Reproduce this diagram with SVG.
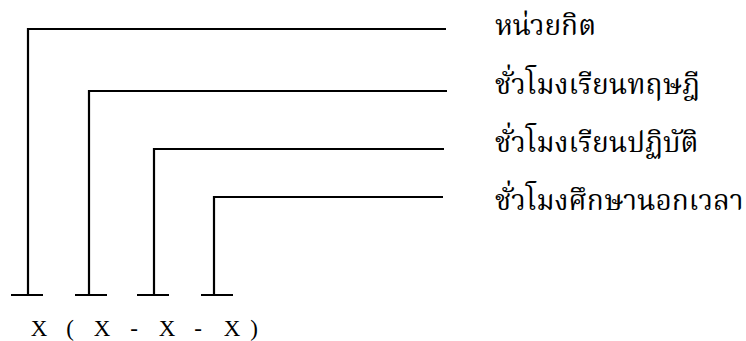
<svg xmlns="http://www.w3.org/2000/svg" width="746" height="341" viewBox="0 0 746 341">
<style>
.ln{fill:none;stroke:#000;stroke-width:2.2}
.th{font-family:"Liberation Serif","Noto Serif Thai","Noto Sans Thai",serif;font-size:28px;font-weight:normal;fill:#000}
.x{font-family:"Liberation Serif",serif;font-size:23px;fill:#000;text-anchor:middle}
</style>
<rect width="746" height="341" fill="#fff"/>
<g id="connectors">
<path class="ln" d="M28,295 V29 H446"/>
<path class="ln" d="M89,295 V91 H447"/>
<path class="ln" d="M154,295 V149 H444"/>
<path class="ln" d="M214,295 V197 H443"/>
<path class="ln" d="M11,295 H43 M75,295 H107 M137,295 H169 M201,295 H233"/>
</g>
<g id="label-credits"><text class="th" x="495" y="35">หน่วยกิต</text></g>
<g id="label-theory"><text class="th" x="495" y="94">ชั่วโมงเรียนทฤษฎี</text></g>
<g id="label-practice"><text class="th" x="495" y="152">ชั่วโมงเรียนปฏิบัติ</text></g>
<g id="label-self"><text class="th" x="495" y="210">ชั่วโมงศึกษานอกเวลา</text></g>
<g id="formula">
<text class="x" x="39" y="336">X</text>
<text class="x" x="70" y="336">(</text>
<text class="x" x="102" y="336">X</text>
<text class="x" x="134" y="336">-</text>
<text class="x" x="167" y="336">X</text>
<text class="x" x="198" y="336">-</text>
<text class="x" x="232" y="336">X</text>
<text class="x" x="254" y="336">)</text>
</g>
</svg>
